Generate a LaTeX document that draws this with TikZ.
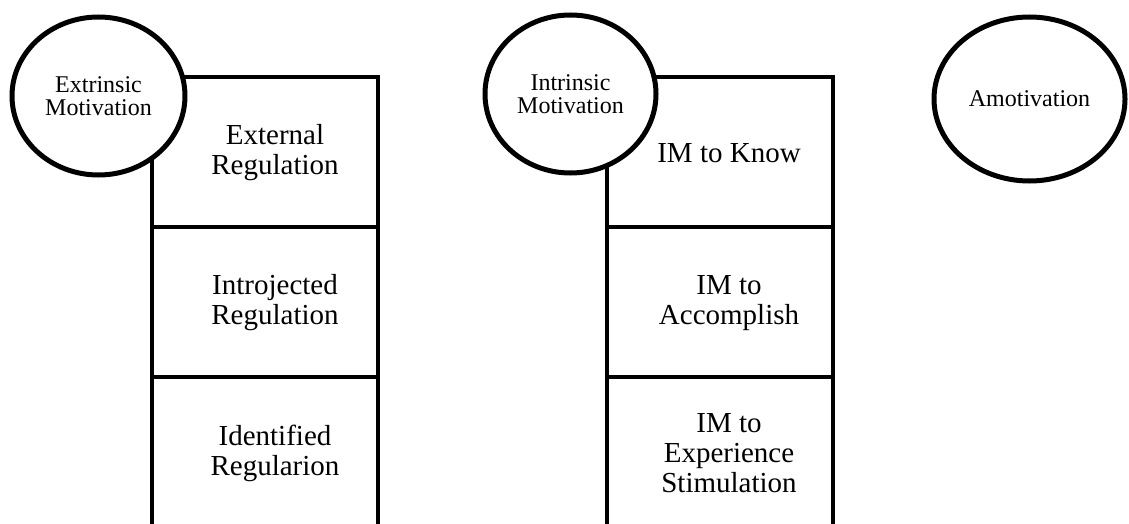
\documentclass[tikz,border=0pt]{standalone}
\usepackage{fontspec}
\setmainfont{Liberation Serif}
\usetikzlibrary{shapes.geometric, positioning}

\begin{document}
\begin{tikzpicture}[x=1pt, y=-1pt,
        slot/.style={draw, line width=4pt, rectangle, minimum width=226pt, minimum height=150pt, inner sep=0pt, outer sep=0pt},
        slotlabel/.style={align=center, font=\fontsize{29}{30}\selectfont},
        blob/.style={draw, line width=5pt, ellipse, fill=white, inner sep=0pt, align=center, font=\fontsize{24}{23}\selectfont}]
                \useasboundingbox (0,0) rectangle (1129,524);
                % extrinsic column
                \node[slot] (ext) at (265,152) {};
                \node[slot, below=0pt of ext] (intro) {};
                \node[slot, below=0pt of intro] (ident) {};
                \node[slotlabel] (extlbl) at ([xshift=10pt, yshift=-1pt]ext.center) {External\\Regulation};
                \node[slotlabel] (introlbl) at ([xshift=10pt, yshift=-1pt]intro.center) {Introjected\\Regulation};
                \node[slotlabel] (identlbl) at ([xshift=10pt, yshift=-1pt]ident.center) {Identified\\Regularion};
                % intrinsic column
                \node[slot] (know) at (720,152) {};
                \node[slot, below=0pt of know] (accomp) {};
                \node[slot, below=0pt of accomp] (stim) {};
                \node[slotlabel] (knowlbl) at ([xshift=9pt, yshift=-1pt]know.center) {IM to Know};
                \node[slotlabel] (accomplbl) at ([xshift=9pt, yshift=-1pt]accomp.center) {IM to\\Accomplish};
                \node[slotlabel] (stimlbl) at ([xshift=9pt, yshift=-1pt]stim.center) {IM to\\Experience\\Stimulation};
                % the three motivations
                \node[blob, minimum width=173pt, minimum height=158pt] (extmot) at (98.5,96) {Extrinsic\\Motivation};
                \node[blob, minimum width=171pt, minimum height=158pt] (intmot) at (570.5,94) {Intrinsic\\Motivation};
                \node[blob, minimum width=191pt, minimum height=164pt] (amot) at (1029.5,99) {Amotivation};
            \end{tikzpicture}
\end{document}
